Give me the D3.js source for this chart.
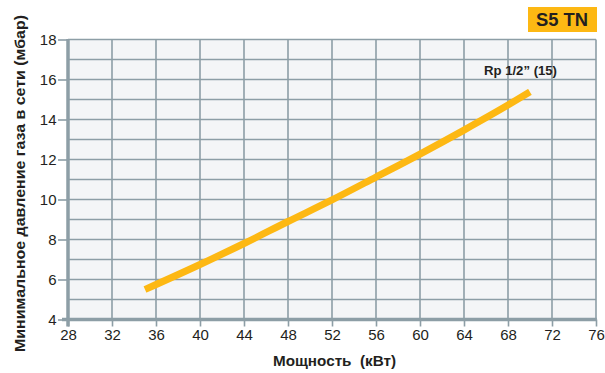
<!DOCTYPE html>
<html><head><meta charset="utf-8">
<script src="https://cdn.jsdelivr.net/npm/d3@7/dist/d3.min.js"></script>
<style>
html,body{margin:0;padding:0;background:#fff;}
svg{display:block;font-family:"Liberation Sans",Arial,Helvetica,sans-serif;}
</style></head>
<body><svg id="chart" width="605" height="373"></svg>
<script>
const xTicks = [28,32,36,40,44,48,52,56,60,64,68,72,76];
const yTicks = [4,6,8,10,12,14,16,18];
const yGrid = [5,6,7,8,9,10,11,12,13,14,15,16,17,18];
const powerKW = [35,40,44,48,52,56,60,64,68,70];
const pressureMbar = [5.5,6.75,7.8,8.9,9.98,11.12,12.27,13.47,14.72,15.38];
const seriesLabel = "Rp 1/2\u201D (15)";
const badgeText = "S5 TN";
const xTitle = "Мощность  (кВт)";
const yTitle = "Минимальное давление газа в сети (мбар)";

const svg = d3.select("#chart");
const x = d3.scaleLinear().domain([28,76]).range([68,596]);
const y = d3.scaleLinear().domain([4,18]).range([319.5,39.5]);
const gridCol = "#8d9ea6";

svg.append("rect").attr("x",x(28)).attr("y",y(18)).attr("width",x(76)-x(28)).attr("height",y(4)-y(18)).attr("fill","#f4f5f7");

// grid
svg.append("g").selectAll("line").data(yGrid).join("line")
  .attr("x1",x(28)).attr("x2",x(76)).attr("y1",d=>y(d)).attr("y2",d=>y(d))
  .attr("stroke",gridCol).attr("stroke-width",1.6);
svg.append("g").selectAll("line").data(xTicks.slice(1)).join("line")
  .attr("x1",d=>x(d)).attr("x2",d=>x(d)).attr("y1",y(18)).attr("y2",y(4))
  .attr("stroke",gridCol).attr("stroke-width",1.6);

// axes
const xAxis = d3.axisBottom(x).tickValues(xTicks).tickSize(7).tickPadding(3);
const gx = svg.append("g").attr("transform",`translate(0,${y(4)})`).call(xAxis);
gx.select(".domain").remove();
gx.selectAll(".tick line").attr("stroke",gridCol).attr("stroke-width",1.6);
gx.selectAll(".tick text").attr("font-size",15).attr("fill","#231f20").attr("font-family","Liberation Sans, Arial, sans-serif");

const yAxis = d3.axisLeft(y).tickValues(yTicks).tickSize(10).tickPadding(1.5);
const gy = svg.append("g").attr("transform",`translate(${x(28)},0)`).call(yAxis);
gy.select(".domain").remove();
gy.selectAll(".tick line").attr("stroke",gridCol).attr("stroke-width",1.6);
gy.selectAll(".tick text").attr("font-size",15).attr("fill","#231f20").attr("font-family","Liberation Sans, Arial, sans-serif");

// thick axis lines
svg.append("line").attr("x1",x(28)).attr("x2",x(28)).attr("y1",y(18)-0.5).attr("y2",y(4)+7)
  .attr("stroke",gridCol).attr("stroke-width",3.5);
svg.append("line").attr("x1",x(28)-6).attr("x2",x(76)+0.8).attr("y1",y(4)).attr("y2",y(4))
  .attr("stroke",gridCol).attr("stroke-width",3.5);

// series line
const line = d3.line().x((d,i)=>x(powerKW[i])).y(d=>y(d)).curve(d3.curveMonotoneX);
svg.append("path").attr("d",line(pressureMbar)).attr("fill","none")
  .attr("stroke","#fdb813").attr("stroke-width",7).attr("stroke-linecap","butt");

svg.append("text").attr("x",520.5).attr("y",75).attr("text-anchor","middle")
  .attr("font-size",12.5).attr("font-weight","bold").attr("fill","#231f20")
  .attr("textLength",73).attr("lengthAdjust","spacingAndGlyphs").text(seriesLabel);

// badge
svg.append("rect").attr("x",528).attr("y",7).attr("width",69).attr("height",25).attr("fill","#fdb813");
svg.append("text").attr("x",562).attr("y",26).attr("text-anchor","middle")
  .attr("font-size",18).attr("font-weight","bold").attr("fill","#231f20")
  .attr("textLength",52).attr("lengthAdjust","spacingAndGlyphs").text(badgeText);

// titles
svg.append("text").attr("x",334.5).attr("y",366).attr("text-anchor","middle")
  .attr("font-size",14.5).attr("font-weight","bold").attr("fill","#231f20")
  .attr("textLength",123).attr("lengthAdjust","spacingAndGlyphs")
  .style("white-space","pre").text(xTitle);
svg.append("text").attr("transform","translate(24.5,183.5) rotate(-90)").attr("text-anchor","middle")
  .attr("font-size",14.5).attr("font-weight","bold").attr("fill","#231f20")
  .attr("textLength",337).attr("lengthAdjust","spacingAndGlyphs").text(yTitle);
</script></body></html>
